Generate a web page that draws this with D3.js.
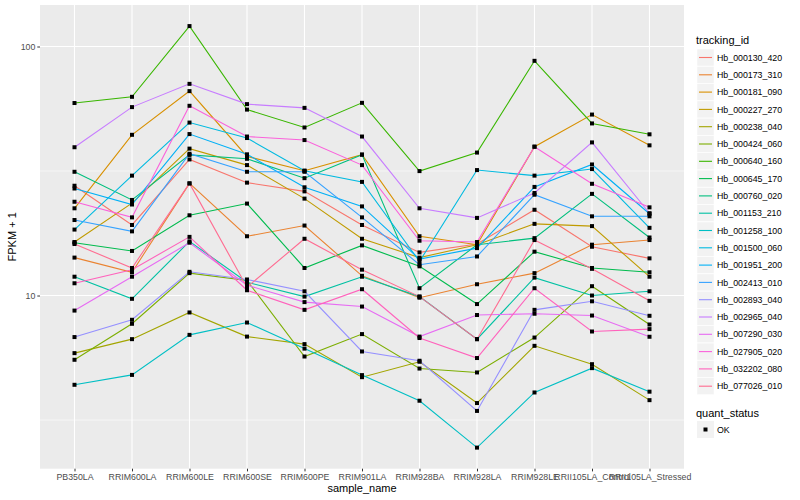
<!DOCTYPE html>
<html><head><meta charset="utf-8">
<script src="https://cdn.jsdelivr.net/npm/d3@7"></script>
<style>body{margin:0;background:#fff}svg{display:block;font-family:"Liberation Sans",Arial,sans-serif}</style>
</head><body><svg id="c" width="800" height="500"></svg>
<script>
const samples = ["PB350LA","RRIM600LA","RRIM600LE","RRIM600SE","RRIM600PE","RRIM901LA","RRIM928BA","RRIM928LA","RRIM928LE","RRII105LA_Control","RRII105LA_Stressed"];
const trackingIds = ["Hb_000130_420","Hb_000173_310","Hb_000181_090","Hb_000227_270","Hb_000238_040","Hb_000424_060","Hb_000640_160","Hb_000645_170","Hb_000760_020","Hb_001153_210","Hb_001258_100","Hb_001500_060","Hb_001951_200","Hb_002413_010","Hb_002893_040","Hb_002965_040","Hb_007290_030","Hb_027905_020","Hb_032202_080","Hb_077026_010"];
const colors = ["#F8766D","#EA8331","#D89000","#C09B00","#A3A500","#7CAE00","#39B600","#00BB4E","#00BF7D","#00C1A3","#00BFC4","#00BAE0","#00B0F6","#35A2FF","#9590FF","#C77CFF","#E76BF3","#FA62DB","#FF62BC","#FF6C91"];
const yTicks = [10, 100];
const yMinor = [3.162, 31.62];

const v000130_420 = [27.6,19.2,35.2,28.4,26.2,19.2,14.9,16.1,22.1,15.7,14.1];
const v000173_310 = [14.2,12.4,28.2,17.3,19.1,12.0,9.8,11.1,12.3,16.0,16.7];
const v000181_090 = [22.4,44.2,66.2,36.2,31.7,36.8,17.3,16.0,39.6,53.3,40.1];
const v000227_270 = [16.4,23.5,38.9,33.4,24.5,16.9,14.2,16.0,19.4,19.0,11.9];
const v000238_040 = [5.87,6.68,8.55,6.84,6.38,4.70,5.42,3.70,6.28,5.30,3.80];
const v000424_060 = [5.52,7.70,12.3,11.5,5.69,7.00,5.09,4.91,6.78,10.9,7.65];
const v000640_160 = [59.3,62.8,120.8,55.8,47.3,59.4,31.6,37.5,87.6,49.1,44.4];
const v000645_170 = [16.3,15.1,21.0,23.4,12.9,15.9,13.1,9.24,15.0,12.9,12.4];
const v000760_020 = [31.4,24.2,36.7,35.4,29.6,36.8,10.7,16.0,17.0,25.6,17.1];
const v001153_210 = [11.9,9.7,16.5,11.3,9.9,11.9,9.9,6.68,11.8,10.0,10.4];
const v001258_100 = [4.38,4.80,6.95,7.79,6.12,4.79,3.78,2.45,4.08,5.11,4.11];
const v001500_060 = [18.4,30.3,49.5,42.9,31.7,28.6,13.7,31.9,30.3,32.2,18.7];
const v001951_200 = [26.9,23.2,44.5,36.9,27.2,22.8,14.0,15.5,27.3,33.6,21.3];
const v002413_010 = [20.1,18.1,37.1,31.4,31.4,20.6,13.3,14.35,25.4,20.8,20.8];
const v002893_040 = [6.81,7.99,12.45,11.6,10.4,5.96,5.47,3.44,8.76,9.48,8.29];
const v002965_040 = [39.4,57.1,70.8,58.7,56.7,43.5,22.4,20.5,25.8,41.2,21.4];
const v007290_030 = [8.70,11.9,16.3,11.0,9.41,9.03,6.84,8.35,8.45,8.31,6.83];
const v027905_020 = [23.8,20.6,57.8,43.5,42.1,33.4,16.6,16.4,39.6,28.1,22.6];
const v032202_080 = [11.2,12.7,17.2,10.5,8.76,10.6,6.75,5.61,10.7,7.17,7.33];
const v077026_010 = [16.1,12.9,28.2,10.8,16.9,12.7,9.9,6.68,16.7,12.8,9.52];

const seriesValues = [v000130_420,v000173_310,v000181_090,v000227_270,v000238_040,v000424_060,v000640_160,v000645_170,v000760_020,v001153_210,v001258_100,v001500_060,v001951_200,v002413_010,v002893_040,v002965_040,v007290_030,v027905_020,v032202_080,v077026_010];
const series = trackingIds.map((id,i)=>({id, color:colors[i], values:seriesValues[i].map((v,j)=>({s:samples[j], v}))}));

const svg = d3.select("#c");
const P = {l:40, r:684, t:5, b:468.7};
const x = d3.scalePoint().domain(samples).range([P.l,P.r]).padding(0.6);
const all = seriesValues.flat();
const lo = Math.log10(d3.min(all)), hi = Math.log10(d3.max(all)), sp = hi-lo;
const y = d3.scaleLog().domain([Math.pow(10,lo-0.05*sp), Math.pow(10,hi+0.05*sp)]).range([P.b,P.t]);

svg.append("rect").attr("x",P.l).attr("y",P.t).attr("width",P.r-P.l).attr("height",P.b-P.t).attr("fill","#EBEBEB");
const g = svg.append("g");
g.selectAll(".ymin").data(yMinor).join("line").attr("x1",P.l).attr("x2",P.r).attr("y1",d=>y(d)).attr("y2",d=>y(d)).attr("stroke","#fff").attr("stroke-width",0.55);
g.selectAll(".ymaj").data(yTicks).join("line").attr("x1",P.l).attr("x2",P.r).attr("y1",d=>y(d)).attr("y2",d=>y(d)).attr("stroke","#fff").attr("stroke-width",1.1);
g.selectAll(".xmaj").data(samples).join("line").attr("x1",d=>x(d)).attr("x2",d=>x(d)).attr("y1",P.t).attr("y2",P.b).attr("stroke","#fff").attr("stroke-width",1.1);

const line = d3.line().x(d=>x(d.s)).y(d=>y(d.v));
svg.append("g").selectAll("path").data(series).join("path").attr("d",d=>line(d.values)).attr("fill","none").attr("stroke",d=>d.color).attr("stroke-width",1.1);
svg.append("g").selectAll("g").data(series).join("g").selectAll("rect").data(d=>d.values).join("rect")
  .attr("x",d=>x(d.s)-2).attr("y",d=>y(d.v)-2).attr("width",4).attr("height",4).attr("fill","#000");

// axes
const yAxis = d3.axisLeft(y).tickValues(yTicks).tickFormat(d3.format("d")).tickSize(2.7).tickPadding(2);
const ya = svg.append("g").attr("transform",`translate(${P.l},0)`).call(yAxis);
const xAxis = d3.axisBottom(x).tickSize(2.7).tickPadding(2);
const xa = svg.append("g").attr("transform",`translate(0,${P.b})`).call(xAxis);
[ya,xa].forEach(a=>{a.select(".domain").remove();a.selectAll(".tick line").attr("stroke","#333");a.selectAll("text").attr("fill","#4D4D4D").style("font-size","8.8px").style("font-family","Liberation Sans, Arial, sans-serif");});

svg.append("text").attr("x",(P.l+P.r)/2).attr("y",492).attr("text-anchor","middle").style("font-size","11px").text("sample_name");
svg.append("text").attr("transform",`translate(16,${(P.t+P.b)/2}) rotate(-90)`).attr("text-anchor","middle").style("font-size","11px").text("FPKM + 1");

// legend
const L = svg.append("g");
L.append("text").attr("x",696).attr("y",44).style("font-size","11px").text("tracking_id");
const rows = L.selectAll(".row").data(series).join("g").attr("transform",(d,i)=>`translate(697,${49+i*17.3})`);
rows.append("rect").attr("width",17).attr("height",17).attr("fill","#F2F2F2").attr("stroke","#fff").attr("stroke-width",0.5);
rows.append("line").attr("x1",2).attr("x2",15).attr("y1",8.5).attr("y2",8.5).attr("stroke",d=>d.color).attr("stroke-width",1.1);
rows.append("text").attr("x",20).attr("y",11.7).style("font-size","8.8px").text(d=>d.id);
L.append("text").attr("x",696).attr("y",416.5).style("font-size","11px").text("quant_status");
const ok = L.append("g").attr("transform","translate(697,421)");
ok.append("rect").attr("width",17).attr("height",17).attr("fill","#F2F2F2");
ok.append("rect").attr("x",6.5).attr("y",6.5).attr("width",4).attr("height",4).attr("fill","#000");
ok.append("text").attr("x",20).attr("y",11.7).style("font-size","8.8px").text("OK");
</script></body></html>
